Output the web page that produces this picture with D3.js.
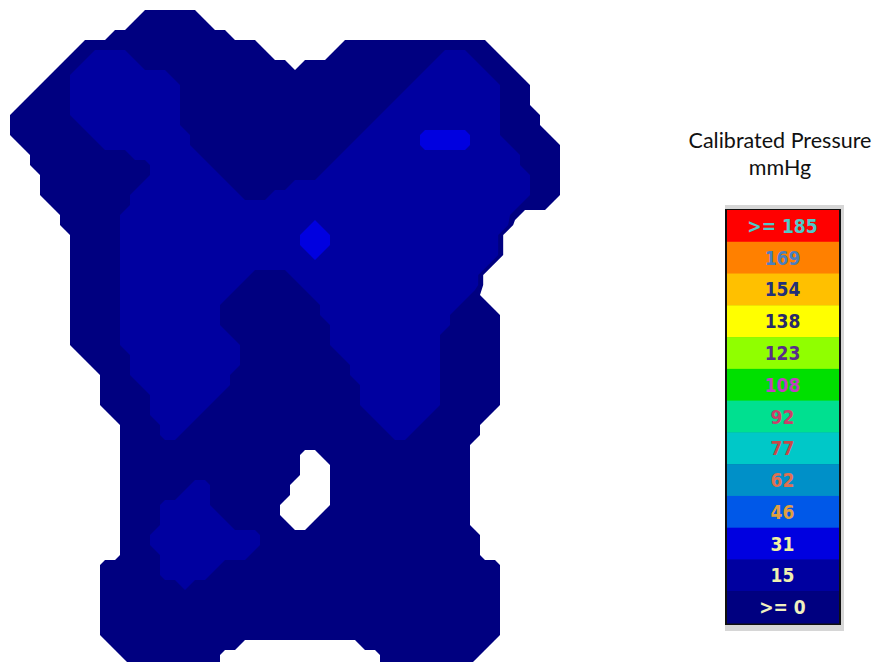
<!DOCTYPE html>
<html>
<head>
<meta charset="utf-8">
<script src="https://cdn.jsdelivr.net/npm/d3@7"></script>
<style>
html, body { margin: 0; padding: 0; background: #ffffff; }
svg { display: block; }
</style>
</head>
<body>
<svg id="chart" width="883" height="662"></svg>
<script>
// ---------------- DATA ----------------
// Pressure-mat sensor grid, run-length encoded per sensor row.
// Letter = pressure class, number = how many consecutive sensels.
// _ = no contact, a = 0-15 mmHg, b = 15-31 mmHg, c = 31-46 mmHg
const classCodes = ["_", "a", "b", "c"];
const classPressure = [0, 8, 22, 40];          // representative mmHg per class
const gridCols = 56;
const pressureRows = [
  "",
  "_14 a6",
  "_13 a8",
  "_11 a12",
  "_8 a18 _8 a15",
  "_7 a2 b4 a14 _6 a11 b3 a3",
  "_6 a2 b6 a15 _1 a13 b5 a3",
  "_5 a2 b10 a25 b7 a3",
  "_4 a3 b11 a23 b9 a3",
  "_3 a4 b11 a22 b10 a3",
  "_2 a5 b11 a21 b11 a3",
  "_1 a6 b11 a20 b12 a4",
  "_1 a7 b10 a19 b13 a4",
  "_1 a8 b10 a17 b6 c5 b3 a5",
  "_2 a8 b9 a16 b7 c5 b4 a5",
  "_3 a10 b7 a14 b18 a4",
  "_3 a12 b6 a12 b19 a4",
  "_4 a11 b7 a10 b21 a3",
  "_4 a10 b9 a6 b24 a3",
  "_4 a9 b11 a3 b26 a3",
  "_5 a8 b39 a3",
  "_6 a6 b39 a1",
  "_6 a6 b19 c1 b19",
  "_7 a5 b18 c3 b17",
  "_7 a5 b18 c3 b17",
  "_7 a5 b19 c1 b18",
  "_7 a5 b37",
  "_7 a5 b13 a4 b19",
  "_7 a5 b12 a6 b18",
  "_7 a5 b11 a8 b16 a1",
  "_7 a5 b10 a10 b14 a3",
  "_7 a5 b10 a10 b13 a5",
  "_7 a5 b10 a11 b12 a5",
  "_7 a5 b11 a10 b11 a6",
  "_7 a5 b12 a9 b11 a6",
  "_8 a5 b11 a10 b10 a6",
  "_9 a4 b11 a11 b9 a6",
  "_10 a3 b10 a12 b9 a6",
  "_10 a4 b9 a13 b8 a6",
  "_10 a5 b7 a14 b8 a6",
  "_10 a5 b6 a15 b8 a6",
  "_11 a4 b5 a17 b6 a6",
  "_12 a4 b3 a19 b4 a6",
  "_12 a4 b2 a21 b2 a7",
  "_12 a35",
  "_12 a18 _2 a15",
  "_12 a18 _3 a14",
  "_12 a18 _3 a14",
  "_12 a7 b2 a8 _4 a14",
  "_12 a6 b3 a8 _4 a14",
  "_12 a4 b5 a7 _5 a14",
  "_12 a4 b6 a6 _4 a15",
  "_12 a4 b7 a6 _2 a16",
  "_12 a3 b11 a22",
  "_12 a3 b11 a22",
  "_12 a4 b9 a23",
  "_10 a6 b6 a28",
  "_10 a6 b5 a29",
  "_10 a8 b1 a31",
  "_10 a40",
  "_10 a40",
  "_10 a40",
  "_10 a40",
  "_10 a40",
  "_11 a13 _12 a13",
  "_12 a10 _16 a10",
  "_13 a9 _16 a9"
];
const contactThreshold = 4;   // lower edge of the ">= 0" band (contact vs. no contact)
const mapThresholds = [contactThreshold, 15, 31];

const legendLabels = [">= 185", "169", "154", "138", "123", "108", "92", "77", "62", "46", "31", "15", ">= 0"];
const legendBreaks = [15, 31, 46, 62, 77, 92, 108, 123, 138, 154, 169, 185];
const legendColors = ["#000080", "#0000a0", "#0000e0", "#0058e8", "#0090c8", "#00c8c8",
                      "#00e090", "#00e000", "#90ff00", "#ffff00", "#ffc000", "#ff8000", "#ff0000"];
const legendTextColors = ["#50c8c8", "#4a7fc0", "#23307a", "#2a2a6a", "#5a2d8a", "#c040c0",
                          "#c8406a", "#c84848", "#e07050", "#e0a040", "#f0f0a0", "#f0f0b0", "#f0f0c0"];
const titleLines = ["Calibrated Pressure", "mmHg"];

// ---------------- BUILD GRID ----------------
const gridRows = pressureRows.length;
const values = new Array(gridCols * gridRows).fill(0);
pressureRows.forEach((row, j) => {
  let i = 0;
  row.split(" ").filter(t => t.length).forEach(tok => {
    const cls = classCodes.indexOf(tok[0]);
    const n = +tok.slice(1);
    for (let k = 0; k < n; k++) { values[j * gridCols + i] = classPressure[cls]; i++; }
  });
});

const svg = d3.select("#chart");

// colour scale shared by map and legend
const color = d3.scaleThreshold().domain(legendBreaks).range(legendColors);

// ---------------- MAP ----------------
const sensel = 10;
const xs = d3.scaleLinear().domain([0, gridCols]).range([0, gridCols * sensel]);
const ys = d3.scaleLinear().domain([0, gridRows]).range([0, gridRows * sensel]);
const proj = d3.geoTransform({ point(x, y) { this.stream.point(xs(x), ys(y)); } });
const path = d3.geoPath(proj);

const contours = d3.contours().size([gridCols, gridRows]).thresholds(mapThresholds)(values);

svg.append("g")
  .selectAll("path")
  .data(contours)
  .join("path")
  .attr("d", path)
  .attr("fill", d => color(d.value))
  .attr("stroke", "none");

// ---------------- LEGEND ----------------
const lgX = 726, lgW = 115;
const band = d3.scaleBand().domain(legendLabels).range([210, 623]).padding(0);
const legend = svg.append("g");

legend.append("rect")
  .attr("x", lgX - 1).attr("y", 205).attr("width", lgW + 4).attr("height", 426)
  .attr("fill", "#d6d6d6");
legend.append("rect")
  .attr("x", lgX - 1).attr("y", 209).attr("width", lgW + 1).attr("height", 416)
  .attr("fill", "#101010");

legend.selectAll("rect.sw")
  .data(legendLabels)
  .join("rect")
  .attr("class", "sw")
  .attr("x", lgX + 1)
  .attr("y", d => band(d))
  .attr("width", lgW - 3)
  .attr("height", band.bandwidth() + 0.5)
  .attr("fill", (d, i) => legendColors[legendColors.length - 1 - i]);

legend.selectAll("text")
  .data(legendLabels)
  .join("text")
  .attr("x", lgX + lgW / 2 - 1)
  .attr("y", d => band(d) + band.bandwidth() / 2 + 7)
  .attr("text-anchor", "middle")
  .attr("font-family", "'DejaVu Sans Condensed', 'Liberation Sans', sans-serif")
  .attr("font-stretch", "condensed")
  .attr("font-weight", "bold")
  .attr("font-size", 19)
  .attr("fill", (d, i) => legendTextColors[i])
  .text(d => d);

// ---------------- TITLE ----------------
svg.append("g").selectAll("text")
  .data(titleLines)
  .join("text")
  .attr("x", 780)
  .attr("y", (d, i) => 148 + i * 27)
  .attr("text-anchor", "middle")
  .attr("font-family", "Lato, 'Open Sans', sans-serif")
  .attr("font-size", 21.5)
  .attr("fill", "#111")
  .text(d => d);
</script>
</body>
</html>
